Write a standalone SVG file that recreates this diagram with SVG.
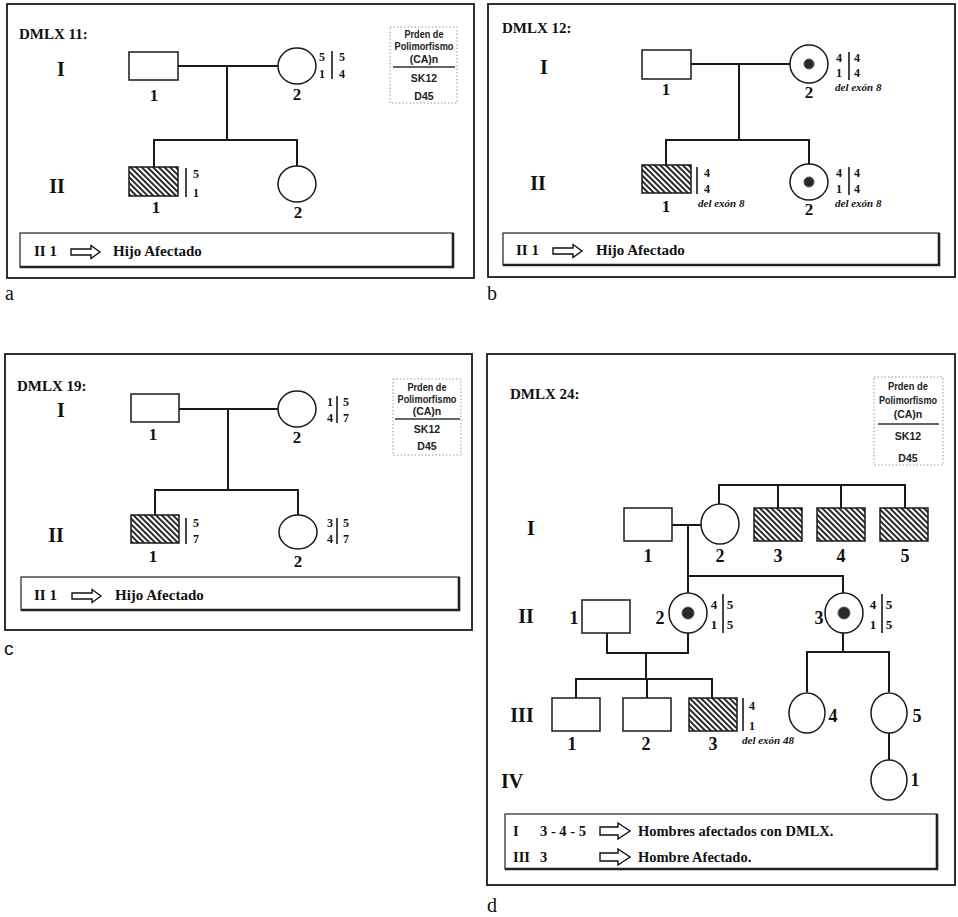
<svg xmlns="http://www.w3.org/2000/svg" xmlns:xlink="http://www.w3.org/1999/xlink" width="958" height="917" viewBox="0 0 958 917">
<style>
.panel{fill:none;stroke:#1a1a1a;stroke-width:1.8}
.note{fill:#fff;stroke:#222;stroke-width:1.2}
.shadow{fill:none;stroke:#222;stroke-width:2.6}
.leg{fill:none;stroke:#999;stroke-width:1;stroke-dasharray:1.5 2}
.legline{stroke:#333;stroke-width:1.5}
.ln{fill:none;stroke:#1a1a1a;stroke-width:2}
.sq{fill:#fff;stroke:#1a1a1a;stroke-width:1.5}
.aff{fill:url(#hatch);stroke:#1a1a1a;stroke-width:1.5}
.dot{fill:#2a2a2a;stroke:#555;stroke-width:1}
.gbar{stroke:#1a1a1a;stroke-width:1.6}
.title{font-family:"Liberation Serif",serif;font-weight:bold;font-size:15px;fill:#111}
.rom{font-family:"Liberation Serif",serif;font-weight:bold;font-size:20px;fill:#111;text-anchor:middle}
.lab{font-family:"Liberation Serif",serif;font-weight:bold;font-size:17px;fill:#111;text-anchor:middle}
.labd{font-family:"Liberation Serif",serif;font-weight:bold;font-size:18px;fill:#111;text-anchor:middle}
.gt{font-family:"Liberation Serif",serif;font-weight:bold;font-size:12px;fill:#111;text-anchor:middle}
.gtd{font-family:"Liberation Serif",serif;font-weight:bold;font-size:13px;fill:#111;text-anchor:middle}
.del{font-family:"Liberation Serif",serif;font-weight:bold;font-style:italic;font-size:11px;fill:#111}
.ntxt{font-family:"Liberation Serif",serif;font-weight:bold;font-size:15px;fill:#111}
.ntxtd{font-family:"Liberation Serif",serif;font-weight:bold;font-size:14.5px;fill:#111}
.lg{font-family:"Liberation Sans",sans-serif;font-weight:bold;font-size:10.5px;fill:#222;text-anchor:middle}
.plab{font-family:"Liberation Serif",serif;font-size:20px;fill:#111}
.plabs{font-family:"Liberation Sans",sans-serif;font-size:19px;fill:#111}
.arrow{fill:#fff;stroke:#111;stroke-width:1.4;stroke-linejoin:miter}
</style>
<defs>
<pattern id="hatch" width="4" height="4" patternUnits="userSpaceOnUse" patternTransform="rotate(-45)">
<rect width="4" height="4" fill="#fff"/>
<line x1="2" y1="0" x2="2" y2="4" stroke="#111" stroke-width="1.8"/>
</pattern>
<path id="arr" class="arrow" d="M0,-3 H20 V-6.5 L29,0 L20,6.5 V3 H0 Z"/>
<path id="arrd" class="arrow" d="M0,-4 H18 V-8 L30,0 L18,8 V4 H0 Z"/>
</defs>

<!-- ============ Panel a ============ -->
<g id="panel-a">
<rect class="panel" x="7" y="4" width="467" height="274"/>
<text class="title" x="19" y="39">DMLX 11:</text>
<text class="rom" x="61" y="76">I</text>
<text class="rom" x="57" y="193">II</text>
<g id="a-legend">
<rect class="leg" x="390" y="27" width="67" height="76"/>
<text class="lg" x="424" y="38" textLength="39" lengthAdjust="spacingAndGlyphs">Prden de</text>
<text class="lg" x="424" y="50" textLength="59" lengthAdjust="spacingAndGlyphs">Polimorfismo</text>
<text class="lg" x="424" y="63">(CA)n</text>
<line class="legline" x1="393" y1="67" x2="455" y2="67"/>
<text class="lg" x="424" y="82">SK12</text>
<text class="lg" x="424" y="100">D45</text>
</g>
<g id="a-note">
<rect class="note" x="20" y="233" width="433" height="34"/>
<polyline class="shadow" points="453,233 453,267 20,267"/>
<text class="ntxt" x="34" y="256">II 1</text>
<use xlink:href="#arr" x="71" y="252"/>
<text class="ntxt" x="113" y="256">Hijo Afectado</text>
</g>
<text class="plab" x="5" y="300">a</text>
</g>

<!-- ============ Panel b ============ -->
<g id="panel-b">
<rect class="panel" x="488" y="4" width="467" height="273"/>
<text class="title" x="502" y="33">DMLX 12:</text>
<text class="rom" x="544" y="74">I</text>
<text class="rom" x="538" y="190">II</text>
<g id="b-note">
<rect class="note" x="503" y="233" width="436" height="32"/>
<polyline class="shadow" points="939,233 939,265 503,265"/>
<text class="ntxt" x="516" y="255">II 1</text>
<use xlink:href="#arr" x="553" y="251"/>
<text class="ntxt" x="596" y="255">Hijo Afectado</text>
</g>
<text class="plab" x="487" y="300">b</text>
</g>

<!-- ============ Panel c ============ -->
<g id="panel-c">
<rect class="panel" x="5" y="354" width="467" height="276"/>
<text class="title" x="17" y="391">DMLX 19:</text>
<text class="rom" x="61" y="417">I</text>
<text class="rom" x="56" y="542">II</text>
<g id="c-legend">
<rect class="leg" x="393" y="379" width="68" height="76"/>
<text class="lg" x="427" y="391" textLength="39" lengthAdjust="spacingAndGlyphs">Prden de</text>
<text class="lg" x="427" y="403" textLength="59" lengthAdjust="spacingAndGlyphs">Polimorfismo</text>
<text class="lg" x="427" y="415">(CA)n</text>
<line class="legline" x1="395" y1="419" x2="460" y2="419"/>
<text class="lg" x="427" y="433">SK12</text>
<text class="lg" x="427" y="450">D45</text>
</g>
<g id="c-note">
<rect class="note" x="21" y="577" width="438" height="33"/>
<polyline class="shadow" points="459,577 459,610 21,610"/>
<text class="ntxt" x="34" y="600">II 1</text>
<use xlink:href="#arr" x="72" y="596"/>
<text class="ntxt" x="115" y="600">Hijo Afectado</text>
</g>
<text class="plabs" x="4" y="655">c</text>
</g>

<!-- ============ Panel d ============ -->
<g id="panel-d">
<rect class="panel" x="487" y="354" width="468" height="531"/>
<text class="title" x="510" y="399">DMLX 24:</text>
<text class="rom" x="531" y="535">I</text>
<text class="rom" x="526" y="623">II</text>
<text class="rom" x="522" y="722">III</text>
<text class="rom" x="512" y="788">IV</text>
<g id="d-legend">
<rect class="leg" x="874" y="377" width="69" height="88"/>
<text class="lg" x="908" y="390" textLength="40" lengthAdjust="spacingAndGlyphs">Prden de</text>
<text class="lg" x="908" y="404" textLength="58" lengthAdjust="spacingAndGlyphs">Polimorfismo</text>
<text class="lg" x="908" y="418">(CA)n</text>
<line class="legline" x1="878" y1="424" x2="939" y2="424"/>
<text class="lg" x="908" y="440">SK12</text>
<text class="lg" x="908" y="462">D45</text>
</g>
<g id="d-note">
<rect class="note" x="505" y="814" width="432" height="55"/>
<polyline class="shadow" points="937,814 937,869 505,869"/>
<text class="ntxtd" x="513" y="836">I</text>
<text class="ntxtd" x="540" y="836">3 - 4 - 5</text>
<use xlink:href="#arrd" x="600" y="831"/>
<text class="ntxtd" x="638" y="836">Hombres afectados con DMLX.</text>
<text class="ntxtd" x="513" y="862">III</text>
<text class="ntxtd" x="540" y="862">3</text>
<use xlink:href="#arrd" x="600" y="857"/>
<text class="ntxtd" x="638" y="862">Hombre Afectado.</text>
</g>
<text class="plab" x="487" y="912">d</text>
</g>

<!-- ============ Connectors ============ -->
<g id="connectors" class="ln">
<path d="M178,66 H278"/>
<path d="M227,66 V140"/>
<path d="M154,167 V140 H297 V166"/>
<path d="M691,64 H790"/>
<path d="M739,64 V140"/>
<path d="M666,165 V140 H809 V164"/>
<path d="M179,409 H278"/>
<path d="M228,409 V490"/>
<path d="M155,515 V490 H298 V515"/>
<path d="M719,504 V485 H905 V508"/>
<path d="M778,485 V508"/>
<path d="M841,485 V508"/>
<path d="M672,525 H701"/>
<path d="M688,525 V576"/>
<path d="M688,593 V576 H843 V593"/>
<path d="M607,633 V653 H688 V633"/>
<path d="M646,653 V679"/>
<path d="M576,698 V679 H712 V698"/>
<path d="M647,679 V698"/>
<path d="M843,633 V652"/>
<path d="M807,692 V652 H889 V692"/>
<path d="M889,733 V760"/>
</g>

<!-- ============ Nodes: panel a ============ -->
<g id="a-I-1"><rect class="sq" x="129" y="52" width="49" height="28"/><text class="lab" x="154" y="101">1</text></g>
<g id="a-I-2"><ellipse class="sq" cx="297" cy="66" rx="19" ry="18"/><text class="lab" x="297" y="100">2</text>
<text class="gt" x="322" y="61">5</text><text class="gt" x="322" y="78">1</text>
<line class="gbar" x1="332" y1="51" x2="332" y2="79"/>
<text class="gt" x="342" y="61">5</text><text class="gt" x="342" y="78">4</text></g>
<g id="a-II-1"><rect class="aff" x="129" y="167" width="49" height="29"/><text class="lab" x="156" y="213">1</text>
<line class="gbar" x1="186" y1="168" x2="186" y2="197"/>
<text class="gt" x="196" y="178">5</text><text class="gt" x="196" y="197">1</text></g>
<g id="a-II-2"><ellipse class="sq" cx="297" cy="184" rx="19" ry="18"/><text class="lab" x="298" y="218">2</text></g>

<!-- ============ Nodes: panel b ============ -->
<g id="b-I-1"><rect class="sq" x="642" y="50" width="49" height="29"/><text class="lab" x="666" y="95">1</text></g>
<g id="b-I-2"><ellipse class="sq" cx="809" cy="64" rx="19" ry="19"/><circle class="dot" cx="809" cy="64" r="5"/><text class="lab" x="809" y="98">2</text>
<text class="gt" x="839" y="62">4</text><text class="gt" x="839" y="77">1</text>
<line class="gbar" x1="849" y1="52" x2="849" y2="80"/>
<text class="gt" x="857" y="62">4</text><text class="gt" x="857" y="77">4</text>
<text class="del" x="835" y="91">del exón 8</text></g>
<g id="b-II-1"><rect class="aff" x="642" y="165" width="49" height="28"/><text class="lab" x="666" y="212">1</text>
<line class="gbar" x1="697" y1="167" x2="697" y2="194"/>
<text class="gt" x="707" y="177">4</text><text class="gt" x="707" y="193">4</text>
<text class="del" x="698" y="207">del exón 8</text></g>
<g id="b-II-2"><ellipse class="sq" cx="809" cy="182" rx="19" ry="18"/><circle class="dot" cx="809" cy="182" r="5"/><text class="lab" x="809" y="215">2</text>
<text class="gt" x="839" y="177">4</text><text class="gt" x="839" y="193">1</text>
<line class="gbar" x1="849" y1="167" x2="849" y2="195"/>
<text class="gt" x="857" y="177">4</text><text class="gt" x="857" y="193">4</text>
<text class="del" x="835" y="207">del exón 8</text></g>

<!-- ============ Nodes: panel c ============ -->
<g id="c-I-1"><rect class="sq" x="131" y="394" width="48" height="28"/><text class="lab" x="153" y="440">1</text></g>
<g id="c-I-2"><ellipse class="sq" cx="297" cy="409" rx="19" ry="18"/><text class="lab" x="297" y="443">2</text>
<text class="gt" x="330" y="406">1</text><text class="gt" x="330" y="422">4</text>
<line class="gbar" x1="337" y1="396" x2="337" y2="423"/>
<text class="gt" x="346" y="406">5</text><text class="gt" x="346" y="422">7</text></g>
<g id="c-II-1"><rect class="aff" x="131" y="515" width="48" height="28"/><text class="lab" x="153" y="562">1</text>
<line class="gbar" x1="186" y1="518" x2="186" y2="544"/>
<text class="gt" x="196" y="527">5</text><text class="gt" x="196" y="543">7</text></g>
<g id="c-II-2"><ellipse class="sq" cx="298" cy="532" rx="19" ry="17"/><text class="lab" x="298" y="567">2</text>
<text class="gt" x="330" y="527">3</text><text class="gt" x="330" y="543">4</text>
<line class="gbar" x1="337" y1="518" x2="337" y2="544"/>
<text class="gt" x="346" y="527">5</text><text class="gt" x="346" y="543">7</text></g>

<!-- ============ Nodes: panel d ============ -->
<g id="d-I-1"><rect class="sq" x="624" y="508" width="48" height="33"/><text class="labd" x="648" y="562">1</text></g>
<g id="d-I-2"><ellipse class="sq" cx="720" cy="524" rx="19" ry="20"/><text class="labd" x="720" y="562">2</text></g>
<g id="d-I-3"><rect class="aff" x="754" y="508" width="48" height="33"/><text class="labd" x="778" y="562">3</text></g>
<g id="d-I-4"><rect class="aff" x="817" y="508" width="48" height="33"/><text class="labd" x="841" y="562">4</text></g>
<g id="d-I-5"><rect class="aff" x="880" y="508" width="48" height="33"/><text class="labd" x="905" y="562">5</text></g>
<g id="d-II-1"><rect class="sq" x="582" y="600" width="48" height="33"/><text class="labd" x="574" y="624">1</text></g>
<g id="d-II-2"><ellipse class="sq" cx="688" cy="613" rx="19" ry="20"/><circle class="dot" cx="688" cy="613" r="6"/><text class="labd" x="660" y="624">2</text>
<text class="gtd" x="714" y="609">4</text><text class="gtd" x="714" y="629">1</text>
<line class="gbar" x1="723" y1="594" x2="723" y2="633"/>
<text class="gtd" x="730" y="609">5</text><text class="gtd" x="730" y="629">5</text></g>
<g id="d-II-3"><ellipse class="sq" cx="844" cy="613" rx="19" ry="20"/><circle class="dot" cx="844" cy="613" r="6"/><text class="labd" x="819" y="624">3</text>
<text class="gtd" x="873" y="609">4</text><text class="gtd" x="873" y="629">1</text>
<line class="gbar" x1="882" y1="594" x2="882" y2="633"/>
<text class="gtd" x="889" y="609">5</text><text class="gtd" x="889" y="629">5</text></g>
<g id="d-III-1"><rect class="sq" x="552" y="698" width="48" height="33"/><text class="labd" x="572" y="750">1</text></g>
<g id="d-III-2"><rect class="sq" x="623" y="698" width="48" height="33"/><text class="labd" x="646" y="750">2</text></g>
<g id="d-III-3"><rect class="aff" x="689" y="698" width="48" height="33"/><text class="labd" x="713" y="750">3</text>
<line class="gbar" x1="743" y1="698" x2="743" y2="731"/>
<text class="gt" x="752" y="710">4</text><text class="gt" x="752" y="730">1</text>
<text class="del" x="742" y="744">del exón 48</text></g>
<g id="d-III-4"><ellipse class="sq" cx="807" cy="713" rx="18" ry="20"/><text class="labd" x="833" y="722">4</text></g>
<g id="d-III-5"><ellipse class="sq" cx="889" cy="713" rx="18" ry="20"/><text class="labd" x="917" y="722">5</text></g>
<g id="d-IV-1"><ellipse class="sq" cx="889" cy="780" rx="18" ry="20"/><text class="labd" x="915" y="786">1</text></g>
</svg>
